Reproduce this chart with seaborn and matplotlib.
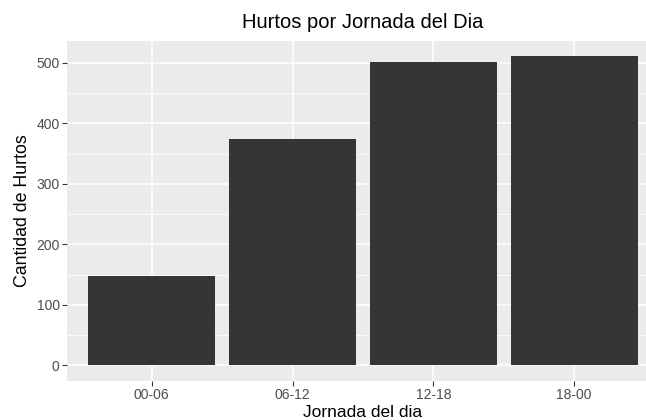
import matplotlib
matplotlib.use("Agg")
import matplotlib.pyplot as plt
import seaborn as sns
import pandas as pd
from matplotlib.ticker import MultipleLocator

# data
jornadas = ["00-06", "06-12", "12-18", "18-00"]
hurtos = [148, 374, 502, 511]

df = pd.DataFrame({"jornada": jornadas, "hurtos": hurtos})

sns.set_theme(style="darkgrid")
plt.rcParams["font.family"] = ["Liberation Sans", "DejaVu Sans"]

fig = plt.figure(figsize=(6.46, 4.2), dpi=100)
# panel runs slightly past the right edge, like the cropped original
ax = fig.add_axes([67.3 / 646, 1 - 380.7 / 420, (658.7 - 67.3) / 646, 340 / 420])
ax.set_facecolor("#EBEBEB")

sns.barplot(data=df, x="jornada", y="hurtos", color="#353535", width=0.9,
            saturation=1, edgecolor="none", linewidth=0, ax=ax, zorder=3)

ax.set_xlim(-0.6, 3.6)
ax.set_ylim(-25.55, 536.55)
ax.yaxis.set_major_locator(MultipleLocator(100))
ax.yaxis.set_minor_locator(MultipleLocator(50))

ax.grid(which="major", color="white", linewidth=1.1, zorder=0)
ax.grid(which="minor", axis="y", color="white", linewidth=0.55, zorder=0)
ax.set_axisbelow(True)
for s in ax.spines.values():
    s.set_visible(False)

ax.tick_params(axis="both", which="major", bottom=True, left=True, length=3.5,
               width=0.8, color="#333333", labelcolor="#4D4D4D", labelsize=10, pad=2)
ax.tick_params(axis="both", which="minor", length=0)

ax.set_title("Hurtos por Jornada del Dia", fontsize=14.5, color="black", pad=9)
ax.set_xlabel("Jornada del dia", fontsize=12.5, color="black", labelpad=2)
ax.set_ylabel("Cantidad de Hurtos", fontsize=12.8, color="black", labelpad=4)

fig.savefig("out.png", dpi=100)
